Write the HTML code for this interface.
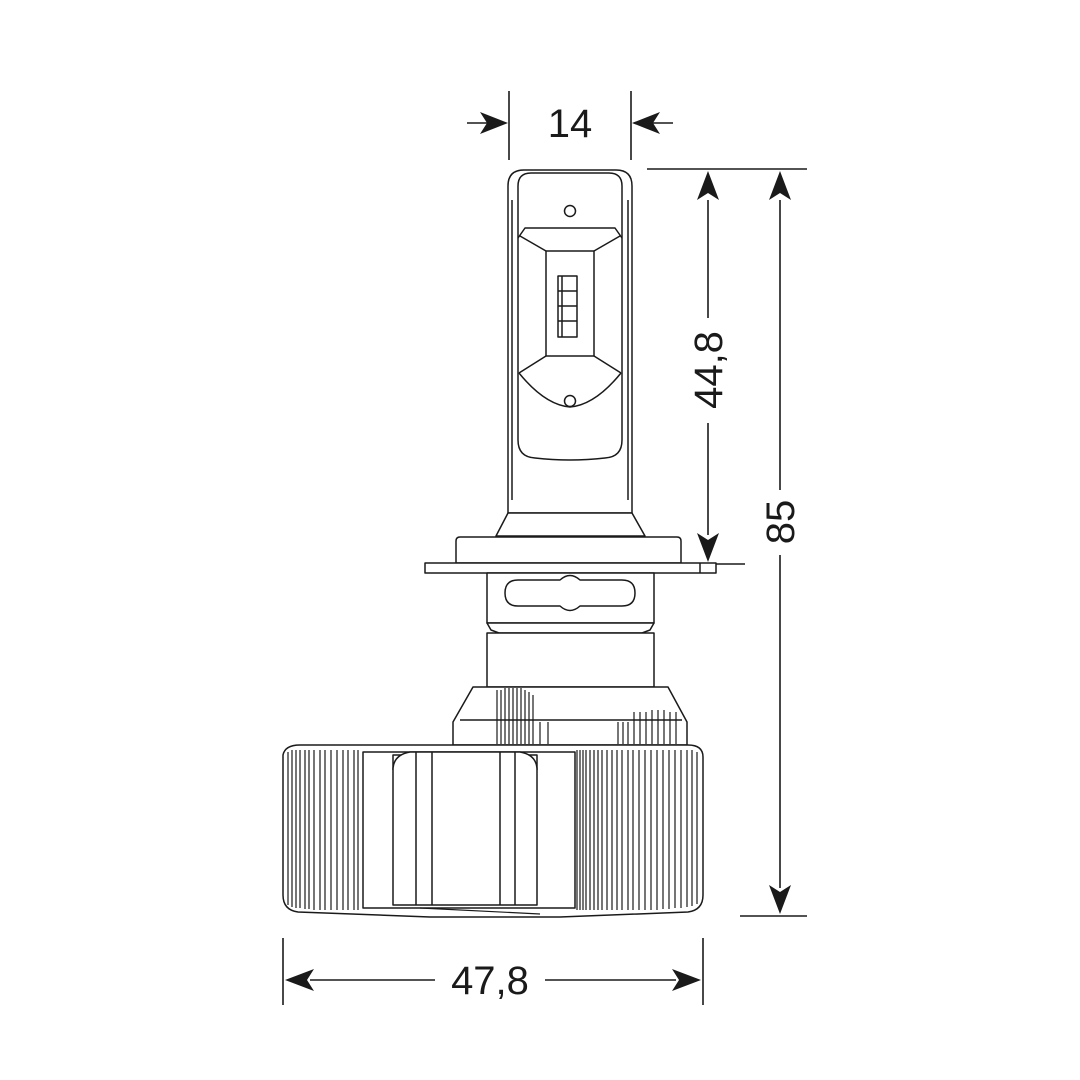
<!DOCTYPE html>
<html><head><meta charset="utf-8"><style>html,body{margin:0;padding:0;background:#fff}svg{display:block}</style></head>
<body>
<svg width="1080" height="1080" viewBox="0 0 1080 1080" xmlns="http://www.w3.org/2000/svg">
<rect width="1080" height="1080" fill="#fff"/>
<g stroke="#1a1a1a" stroke-width="1.6" fill="none">
<!-- dimension 14 -->
<line x1="509" y1="91" x2="509" y2="160"/>
<line x1="631" y1="91" x2="631" y2="160"/>
<line x1="467" y1="123" x2="490" y2="123"/>
<line x1="650" y1="123" x2="673" y2="123"/>
<!-- 44,8 -->
<line x1="647" y1="169" x2="807" y2="169"/>
<line x1="708" y1="200" x2="708" y2="318"/>
<line x1="708" y1="423" x2="708" y2="535"/>
<line x1="700" y1="564" x2="745" y2="564"/>
<!-- 85 -->
<line x1="780" y1="200" x2="780" y2="490"/>
<line x1="780" y1="555" x2="780" y2="888"/>
<line x1="740" y1="916" x2="807" y2="916"/>
<!-- 47,8 -->
<line x1="283" y1="938" x2="283" y2="1005"/>
<line x1="703" y1="938" x2="703" y2="1005"/>
<line x1="310" y1="980" x2="435" y2="980"/>
<line x1="545" y1="980" x2="676" y2="980"/>
</g>
<g fill="#1a1a1a">
<polygon points="508,123 480,112 487,123 480,134"/>
<polygon points="632,123 660,112 653,123 660,134"/>
<polygon points="708,171 697,200 708,193 719,200"/>
<polygon points="708,562 697,533 708,540 719,533"/>
<polygon points="780,171 769,200 780,193 791,200"/>
<polygon points="780,914 769,885 780,892 791,885"/>
<polygon points="285,980 314,969 307,980 314,991"/>
<polygon points="701,980 672,969 679,980 672,991"/>
</g>
<g font-family="Liberation Sans, sans-serif" font-size="40" fill="#1a1a1a" text-anchor="middle">
<text x="570" y="137">14</text>
<text x="490" y="994">47,8</text>
<text transform="translate(722,370) rotate(-90)">44,8</text>
<text transform="translate(794,522) rotate(-90)">85</text>
</g>
<!-- bulb -->
<g stroke="#1a1a1a" stroke-width="1.5" fill="#fff" stroke-linejoin="round">
<path d="M508,513 L508,186 Q508,170 524,170 L616,170 Q632,170 632,186 L632,513 Z"/>
<path d="M518,440 L518,186 Q518,173 531,173 L609,173 Q622,173 622,186 L622,440 Q622,457 605,458 Q570,462 535,458 Q518,457 518,440 Z"/>
<line x1="512" y1="200" x2="512" y2="500"/><line x1="628" y1="200" x2="628" y2="500"/>
<path d="M518,238 L525,228 L615,228 L622,238"/>
<line x1="520" y1="236" x2="546" y2="251"/><line x1="620" y1="236" x2="594" y2="251"/>
<rect x="546" y="251" width="48" height="105"/>
<line x1="546" y1="356" x2="519" y2="373"/><line x1="594" y1="356" x2="621" y2="373"/>
<path d="M519,373 Q545,405 570,407 Q595,405 621,373"/>
<circle cx="570" cy="211" r="5.5"/><circle cx="570" cy="401" r="5.5"/>
<rect x="558" y="276" width="19" height="61"/>
<line x1="558" y1="291" x2="577" y2="291"/><line x1="558" y1="306" x2="577" y2="306"/><line x1="558" y1="321" x2="577" y2="321"/>
<line x1="562" y1="276" x2="562" y2="337"/>
<!-- neck & flange -->
<path d="M508,513 L496,536 L645,536 L632,513 Z"/>
<path d="M456,563 L456,541 Q456,537 460,537 L677,537 Q681,537 681,541 L681,563 Z"/>
<rect x="425" y="563" width="291" height="10"/>
<line x1="700" y1="563" x2="700" y2="573"/>
<rect x="487" y="573" width="167" height="50"/>
<path d="M518,580 L560,580 Q570,571 580,580 L622,580 Q635,580 635,593 Q635,606 622,606 L580,606 Q570,615 560,606 L518,606 Q505,606 505,593 Q505,580 518,580 Z"/>
<path d="M487,623 L654,623 L650,630 L642,633 L499,633 L491,630 Z"/>
<rect x="487" y="633" width="167" height="54"/>
<!-- hub -->
<path d="M453,745 L453,722 L473,687 L668,687 L687,722 L687,745 Z"/>
<line x1="460" y1="720" x2="682" y2="720"/>
<!-- heatsink -->
<path d="M283,755 Q285,745 300,745 L688,745 Q703,745 703,757 L703,895 Q703,910 688,912 L560,917 L430,917 L298,912 Q283,910 283,895 Z"/>
<rect x="363" y="752" width="212" height="156"/>
<path d="M393,755 L537,755 L537,905 L393,905 Z"/>
<path d="M393,770 Q393,755 410,752 L520,752 Q537,755 537,770"/>
<line x1="416" y1="752" x2="416" y2="905"/><line x1="432" y1="752" x2="432" y2="905"/>
<line x1="500" y1="752" x2="500" y2="905"/><line x1="515" y1="752" x2="515" y2="905"/>
</g>
<g stroke="#1a1a1a" stroke-width="1.2">
<line x1="288" y1="752" x2="288" y2="905"/><line x1="292" y1="750" x2="292" y2="907"/><line x1="296" y1="750" x2="296" y2="908"/>
<line x1="300" y1="750" x2="300" y2="908"/><line x1="305" y1="750" x2="305" y2="909"/><line x1="309" y1="750" x2="309" y2="909"/>
<line x1="314" y1="750" x2="314" y2="910"/><line x1="320" y1="750" x2="320" y2="910"/><line x1="325" y1="750" x2="325" y2="910"/>
<line x1="331" y1="750" x2="331" y2="910"/><line x1="337" y1="750" x2="337" y2="910"/><line x1="343" y1="750" x2="343" y2="910"/>
<line x1="348" y1="750" x2="348" y2="910"/><line x1="354" y1="750" x2="354" y2="910"/><line x1="358" y1="750" x2="358" y2="910"/>
<line x1="577" y1="750" x2="577" y2="910"/><line x1="580" y1="750" x2="580" y2="910"/><line x1="583" y1="750" x2="583" y2="910"/>
<line x1="586" y1="750" x2="586" y2="910"/><line x1="590" y1="750" x2="590" y2="910"/><line x1="594" y1="750" x2="594" y2="910"/>
<line x1="598" y1="750" x2="598" y2="910"/><line x1="602" y1="750" x2="602" y2="910"/><line x1="607" y1="750" x2="607" y2="910"/>
<line x1="612" y1="750" x2="612" y2="910"/><line x1="617" y1="750" x2="617" y2="910"/><line x1="622" y1="750" x2="622" y2="910"/>
<line x1="628" y1="750" x2="628" y2="910"/><line x1="633" y1="750" x2="633" y2="910"/><line x1="639" y1="750" x2="639" y2="910"/>
<line x1="645" y1="750" x2="645" y2="910"/><line x1="651" y1="750" x2="651" y2="910"/><line x1="657" y1="750" x2="657" y2="910"/>
<line x1="663" y1="750" x2="663" y2="909"/><line x1="669" y1="750" x2="669" y2="909"/><line x1="675" y1="750" x2="675" y2="908"/>
<line x1="681" y1="750" x2="681" y2="908"/><line x1="687" y1="750" x2="687" y2="907"/><line x1="692" y1="750" x2="692" y2="906"/>
<line x1="697" y1="752" x2="697" y2="904"/>
<!-- hub fins -->
<line x1="497" y1="690" x2="497" y2="744"/><line x1="501" y1="690" x2="501" y2="744"/><line x1="505" y1="688" x2="505" y2="744"/>
<line x1="509" y1="688" x2="509" y2="744"/><line x1="513" y1="688" x2="513" y2="744"/><line x1="517" y1="688" x2="517" y2="744"/>
<line x1="521" y1="688" x2="521" y2="744"/><line x1="525" y1="690" x2="525" y2="744"/><line x1="529" y1="692" x2="529" y2="744"/>
<line x1="533" y1="695" x2="533" y2="744"/><line x1="540" y1="722" x2="540" y2="744"/><line x1="548" y1="722" x2="548" y2="744"/>
<line x1="618" y1="722" x2="618" y2="744"/><line x1="623" y1="722" x2="623" y2="744"/><line x1="628" y1="722" x2="628" y2="744"/>
<line x1="634" y1="712" x2="634" y2="744"/><line x1="640" y1="712" x2="640" y2="744"/><line x1="646" y1="712" x2="646" y2="744"/>
<line x1="652" y1="710" x2="652" y2="744"/><line x1="658" y1="710" x2="658" y2="744"/><line x1="664" y1="710" x2="664" y2="744"/>
<line x1="670" y1="712" x2="670" y2="744"/><line x1="676" y1="712" x2="676" y2="744"/>
<line x1="420" y1="908" x2="540" y2="914"/>
</g>
</svg>
</body></html>
